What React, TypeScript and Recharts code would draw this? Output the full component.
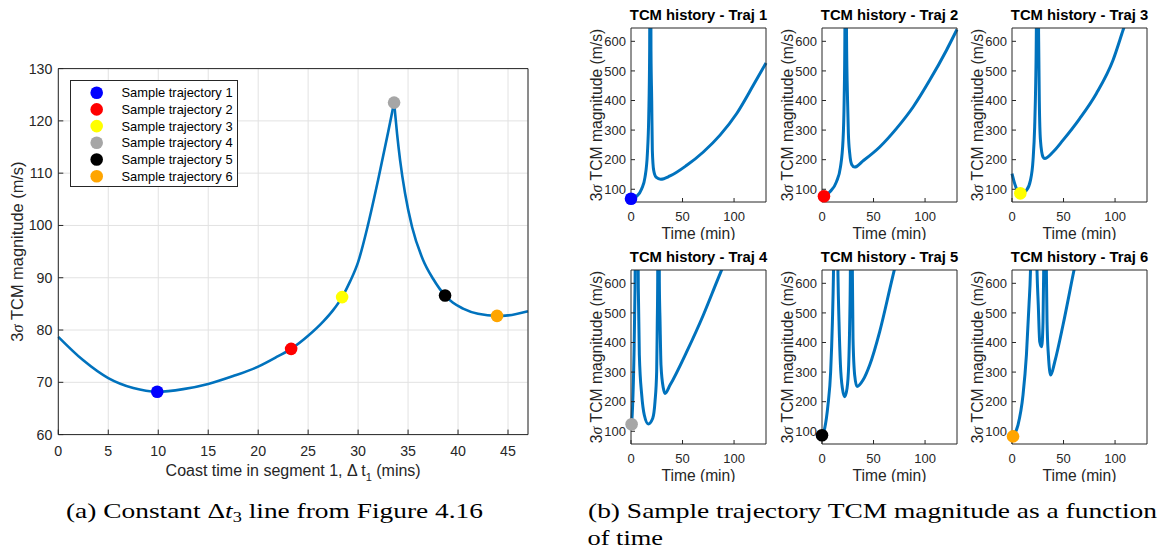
import React from "react";
import { ComposedChart, Line, Scatter, XAxis, YAxis, CartesianGrid, Label } from "recharts";

const FONT = '"Liberation Sans", Arial, Helvetica, sans-serif';
const SERIF = '"Liberation Serif", "Times New Roman", serif';
const INK = "#262626";
const CURVE = "#0072bd";

// (a) constant dt3 line
const COAST_TICKS = [0, 5, 10, 15, 20, 25, 30, 35, 40, 45];
const TCM_TICKS = [60, 70, 80, 90, 100, 110, 120, 130];
const RISE_T = [0, 2.5, 5, 7.5, 9.9, 12.5, 15, 17.5, 20, 22, 23.3, 25, 26.5, 27.5, 28.4, 29.2, 30, 31, 32, 33, 33.6];
const RISE_V = [78.7, 74.2, 70.8, 68.9, 68.2, 68.7, 69.7, 71.2, 73.0, 75.0, 76.4, 78.9, 81.6, 83.8, 86.3, 89.3, 93.0, 100.2, 108.7, 117.8, 123.5];
const FALL_T = [33.6, 33.9, 34.2, 34.7, 35.4, 36.5, 37.5, 38.7, 39.5, 40.5, 42, 43.9, 45, 47];
const FALL_V = [123.5, 117.5, 112.5, 106.1, 99.7, 93.4, 89.8, 86.6, 85.2, 84.1, 83.1, 82.7, 82.8, 83.6];

const SAMPLE_NAMES = [
  "Sample trajectory 1",
  "Sample trajectory 2",
  "Sample trajectory 3",
  "Sample trajectory 4",
  "Sample trajectory 5",
  "Sample trajectory 6",
];
const SAMPLE_COLORS = ["#0000ff", "#ff0000", "#ffff00", "#a6a6a6", "#000000", "#ffa500"];
const SAMPLE_COAST_T = [9.9, 23.3, 28.4, 33.6, 38.7, 43.9];
const SAMPLE_TCM = [68.2, 76.4, 86.3, 123.5, 86.6, 82.7];

// (b) TCM histories
const TIME_TICKS = [0, 50, 100];
const HIST_TICKS = [100, 200, 300, 400, 500, 600];
const SAMPLE_START_T = [0, 1.9, 8.1, 0.6, 0, 1];

const TRAJ1_T = [0, 5.5, 10.4, 13.6, 15.9, 17.2, 18.1, 18.7, 19.4, 20.1, 20.7, 22, 24.3, 28.8, 37.9, 54.1, 70.2, 86.4, 102.6, 118.8, 131];
const TRAJ1_V = [68.2, 76, 102, 141, 221, 345, 570, 1500, 570, 401, 232, 164, 141, 134, 145, 181, 226, 283, 356, 452, 527];
const TRAJ2_T = [1.9, 7.5, 14, 17.9, 20.4, 21.5, 22.2, 23, 23.8, 24.8, 25.6, 26.9, 28.8, 31.7, 39.8, 56, 72.2, 88.4, 104.6, 120.8, 131];
const TRAJ2_V = [76.4, 91, 125, 175, 266, 401, 620, 1500, 620, 401, 288, 221, 184, 175, 196, 243, 305, 378, 469, 570, 640];
const TRAJ3_T = [0, 2.6, 5, 8.1, 11, 14, 17.9, 20.4, 22, 23, 23.6, 24.6, 25.8, 26.5, 27.6, 30.1, 31.7, 39.8, 49.5, 65.7, 81.9, 98.1, 107.8, 131];
const TRAJ3_V = [153, 119, 97, 86.3, 89, 96, 130, 198, 311, 458, 627, 1500, 627, 401, 266, 209, 204, 226, 266, 339, 424, 537, 638, 880];
const TRAJ4_T = [0.6, 1.6, 2.9, 3.9, 5.5, 7.1, 8.1, 10.4, 12.9, 16.8, 21.1, 23.3, 24.9, 25.5, 25.9, 26.6, 27.5, 28.2, 29.1, 31.4, 33, 37.9, 54.1, 70.2, 83.2, 131];
const TRAJ4_V = [123.5, 189, 358, 583, 1500, 583, 358, 223, 155, 125, 144, 200, 301, 470, 605, 1500, 605, 470, 324, 245, 228, 256, 369, 493, 605, 1010];
const TRAJ5_T = [0, 2.6, 5.8, 8.4, 10.1, 11.1, 13.3, 15.5, 16.5, 17.9, 19.8, 22, 24.3, 25.9, 26.9, 27.5, 28.5, 29.5, 30.1, 31.7, 34, 39.8, 46.3, 56, 67.4, 131];
const TRAJ5_V = [86.6, 110, 189, 301, 470, 628, 1500, 628, 470, 324, 245, 217, 245, 324, 470, 628, 1500, 628, 414, 290, 251, 273, 324, 437, 605, 1500];
const TRAJ6_T = [1, 5.8, 10.7, 14, 16.5, 17.9, 21, 24.3, 25.5, 26.9, 28.8, 30.1, 30.7, 32, 33.4, 34, 35.3, 37.6, 41.5, 49.5, 59.2, 131];
const TRAJ6_V = [82.7, 121, 223, 358, 527, 639, 1500, 639, 527, 403, 386, 470, 628, 1500, 628, 470, 358, 290, 335, 459, 628, 1850];

const HIST_T = [TRAJ1_T, TRAJ2_T, TRAJ3_T, TRAJ4_T, TRAJ5_T, TRAJ6_T];
const HIST_V = [TRAJ1_V, TRAJ2_V, TRAJ3_V, TRAJ4_V, TRAJ5_V, TRAJ6_V];

const PANEL_LEFT = [631, 822.3, 1012.3];
const PANEL_TOP = [28.3, 270];

const zip = (ts: number[], vs: number[]) => ts.map((t, i) => ({ t, v: vs[i] }));

const dot = (color: string, r: number) => (p: any) =>
  <circle cx={p.cx} cy={p.cy} r={r} fill={color} />;

function SigmaLabel({ cx, cy, size }: { cx: number; cy: number; size: number }) {
  return (
    <text
      x={cx}
      y={cy}
      transform={`rotate(-90 ${cx} ${cy})`}
      textAnchor="middle"
      dominantBaseline="central"
      fontFamily={FONT}
      fontSize={size}
      fill={INK}
    >
      3<tspan fontFamily={SERIF} fontStyle="italic">σ</tspan> TCM magnitude (m/s)
    </text>
  );
}

function LegendBox() {
  return (
    <svg width={169} height={108} style={{ position: "absolute", left: 70, top: 80 }}>
      <rect x={0.5} y={0.5} width={167} height={106} fill="#fff" stroke={INK} strokeWidth={1} />
      {SAMPLE_NAMES.map((name, i) => (
        <g key={name}>
          <circle cx={26.7} cy={12.7 + 16.7 * i} r={6.3} fill={SAMPLE_COLORS[i]} />
          <text x={51.5} y={12.7 + 16.7 * i} dominantBaseline="central" fontFamily={FONT} fontSize={12.9} fill="#000">
            {name}
          </text>
        </g>
      ))}
    </svg>
  );
}

function CoastChart() {
  const rise = zip(RISE_T, RISE_V);
  const fall = zip(FALL_T, FALL_V);
  const tickStyle = { fontSize: 14.2, fill: INK, fontFamily: FONT };
  return (
    <div style={{ position: "absolute", left: 0, top: 0 }}>
      <ComposedChart width={545} height={490} margin={{ top: 67.6, right: 16, bottom: 54.4, left: 57.3 }}>
        <CartesianGrid stroke="#e2e2e2" strokeWidth={1} />
        <XAxis
          dataKey="t"
          type="number"
          domain={[0, 47]}
          ticks={COAST_TICKS}
          interval={0}
          height={1}
          tickSize={-5}
          tickMargin={16}
          stroke={INK}
          tick={tickStyle}
        >
          <Label
            content={(p: any) => {
              const vb = p.viewBox;
              return (
                <text x={vb.x + vb.width / 2} y={vb.y + 41.5} textAnchor="middle" fontFamily={FONT} fontSize={16} fill={INK}>
                  Coast time in segment 1, Δ t<tspan fontSize={11} dy={5}>1</tspan>
                  <tspan dy={-5}> (mins)</tspan>
                </text>
              );
            }}
          />
        </XAxis>
        <XAxis xAxisId="top" orientation="top" type="number" domain={[0, 47]} ticks={COAST_TICKS} interval={0} height={1} tickSize={-5} tick={false} stroke={INK} />
        <YAxis
          type="number"
          domain={[60, 130]}
          ticks={TCM_TICKS}
          interval={0}
          width={1}
          tickSize={-5}
          tickMargin={11}
          stroke={INK}
          tick={tickStyle}
        >
          <Label
            content={(p: any) => {
              const vb = p.viewBox;
              return <SigmaLabel cx={vb.x - 40.6} cy={vb.y + vb.height / 2} size={16.4} />;
            }}
          />
        </YAxis>
        <YAxis yAxisId="right" orientation="right" type="number" domain={[60, 130]} ticks={TCM_TICKS} interval={0} width={1} tickSize={-5} tick={false} stroke={INK} />
        <Line data={rise} dataKey="v" type="monotone" stroke={CURVE} strokeWidth={2.6} dot={false} isAnimationActive={false} />
        <Line data={fall} dataKey="v" type="monotone" stroke={CURVE} strokeWidth={2.6} dot={false} isAnimationActive={false} />
        {SAMPLE_NAMES.map((name, i) => (
          <Scatter
            key={name}
            name={name}
            data={[{ t: SAMPLE_COAST_T[i], v: SAMPLE_TCM[i] }]}
            dataKey="v"
            fill={SAMPLE_COLORS[i]}
            shape={dot(SAMPLE_COLORS[i], 6.3)}
            isAnimationActive={false}
          />
        ))}
      </ComposedChart>
      <LegendBox />
    </div>
  );
}

function HistoryPanel({ idx }: { idx: number }) {
  const left = PANEL_LEFT[idx % 3];
  const top = PANEL_TOP[Math.floor(idx / 3)];
  const data = zip(HIST_T[idx], HIST_V[idx]);
  const start = [{ t: SAMPLE_START_T[idx], v: SAMPLE_TCM[idx] }];
  const tickStyle = { fontSize: 13, fill: INK, fontFamily: FONT };
  return (
    <div style={{ position: "absolute", left: left - 60, top: top - 28 }}>
      <ComposedChart width={215} height={240} margin={{ top: 27, right: 19, bottom: 37, left: 59 }}>
        <XAxis
          dataKey="t"
          type="number"
          domain={[0, 131]}
          ticks={TIME_TICKS}
          interval={0}
          height={1}
          tickSize={-4}
          tickMargin={14}
          stroke={INK}
          tick={tickStyle}
        >
          <Label
            content={(p: any) => {
              const vb = p.viewBox;
              return (
                <text x={vb.x + vb.width / 2} y={vb.y + 36.5} textAnchor="middle" fontFamily={FONT} fontSize={15.6} fill={INK}>
                  Time (min)
                </text>
              );
            }}
          />
        </XAxis>
        <XAxis xAxisId="top" orientation="top" type="number" domain={[0, 131]} ticks={TIME_TICKS} interval={0} height={1} tickSize={-4} tick={false} stroke={INK}>
          <Label
            content={(p: any) => {
              const vb = p.viewBox;
              return (
                <text x={vb.x + vb.width / 2} y={vb.y + vb.height - 8} textAnchor="middle" fontFamily={FONT} fontWeight="bold" fontSize={14.8} fill="#000">
                  {`TCM history - Traj ${idx + 1}`}
                </text>
              );
            }}
          />
        </XAxis>
        <YAxis
          type="number"
          domain={[57, 645]}
          allowDataOverflow
          ticks={HIST_TICKS}
          interval={0}
          width={1}
          tickSize={-4}
          tickMargin={9}
          stroke={INK}
          tick={tickStyle}
        >
          <Label
            content={(p: any) => {
              const vb = p.viewBox;
              return <SigmaLabel cx={vb.x - 34} cy={vb.y + vb.height / 2} size={15.7} />;
            }}
          />
        </YAxis>
        <YAxis yAxisId="right" orientation="right" type="number" domain={[57, 645]} ticks={HIST_TICKS} interval={0} width={1} tickSize={-4} tick={false} stroke={INK} />
        <Line data={data} dataKey="v" type="monotone" stroke={CURVE} strokeWidth={3} dot={false} isAnimationActive={false} />
        <Scatter
          yAxisId="right"
          data={start}
          dataKey="v"
          fill={SAMPLE_COLORS[idx]}
          shape={dot(SAMPLE_COLORS[idx], 6.3)}
          isAnimationActive={false}
        />
      </ComposedChart>
    </div>
  );
}

function Captions() {
  return (
    <svg width={1165} height={70} style={{ position: "absolute", left: 0, top: 480 }}>
      <text x={66} y={37.5} fontFamily={SERIF} fontSize={21} fill="#000" textLength={417} lengthAdjust="spacingAndGlyphs">
        (a) Constant Δ<tspan fontStyle="italic">t</tspan>
        <tspan fontSize={14} dy={4}>3</tspan>
        <tspan dy={-4}> line from Figure 4.16</tspan>
      </text>
      <text x={588} y={37.7} fontFamily={SERIF} fontSize={21} fill="#000" textLength={569} lengthAdjust="spacingAndGlyphs">
        (b) Sample trajectory TCM magnitude as a function
      </text>
      <text x={587.5} y={65} fontFamily={SERIF} fontSize={21} fill="#000" textLength={75.5} lengthAdjust="spacingAndGlyphs">
        of time
      </text>
    </svg>
  );
}

export default function App() {
  return (
    <div style={{ position: "absolute", left: 0, top: 0, width: 1165, height: 550, background: "#fff", overflow: "hidden" }}>
      <CoastChart />
      {[0, 1, 2, 3, 4, 5].map((i) => (
        <HistoryPanel key={i} idx={i} />
      ))}
      <Captions />
    </div>
  );
}
